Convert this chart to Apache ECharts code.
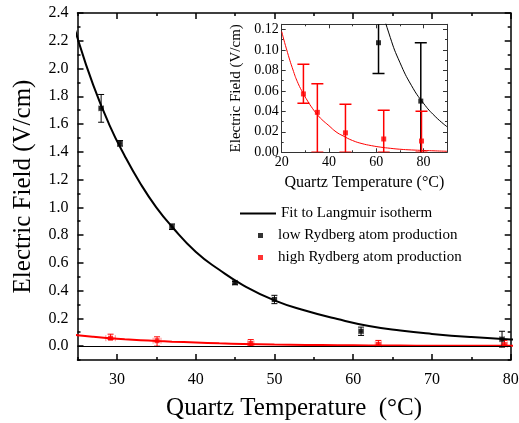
<!DOCTYPE html>
<html><head><meta charset="utf-8">
<script src="https://cdn.jsdelivr.net/npm/echarts@6/dist/echarts.min.js"></script>
<style>html,body{margin:0;padding:0;background:#fff}#c{width:519px;height:423px}</style>
</head><body><div id="c"></div>
<script>
// ---- data ----
var lowX    = [28.0, 30.4, 37.0, 45.0, 50.0, 61.0, 78.9];
var lowY    = [1.713, 1.461, 0.860, 0.456, 0.336, 0.107, 0.050];
var lowLo   = [1.613, 1.441, 0.840, 0.446, 0.306, 0.077, -0.007];
var lowHi   = [1.813, 1.481, 0.880, 0.466, 0.366, 0.137, 0.107];
var lowXErr = [0.3, 0.3, 0.3, 0.3, 0.3, 0.3, 0.3];

var highX    = [29.2, 35.1, 47.0, 63.2, 79.2];
var highY    = [0.057, 0.039, 0.019, 0.013, 0.011];
var highLo   = [0.048, 0.000, 0.000, 0.000, 0.000];
var highHi   = [0.086, 0.067, 0.047, 0.041, 0.040];
var highXErr = [0.6, 0.5, 0.4, 0.4, 0.4];

var fitX     = [20, 22, 25, 27, 29, 31, 33, 35, 37, 40, 43, 46, 50, 54, 58, 62, 66, 70, 75, 80, 85, 90];
var fitLowY  = [3.30, 2.80, 2.22, 1.88, 1.60, 1.37, 1.17, 1.00, 0.86, 0.68, 0.55, 0.44, 0.33, 0.255, 0.195, 0.145, 0.112, 0.088, 0.065, 0.048, 0.035, 0.025];
var fitHighY = [0.118, 0.101, 0.079, 0.067, 0.058, 0.050, 0.043, 0.037, 0.032, 0.026, 0.020, 0.016, 0.0115, 0.0085, 0.0065, 0.005, 0.0039, 0.003, 0.0023, 0.0018, 0.0014, 0.001];

var mainXMajor = [30, 40, 50, 60, 70, 80];
var mainXMinor = [25, 35, 45, 55, 65, 75];
var mainYMajor = [0.0, 0.2, 0.4, 0.6, 0.8, 1.0, 1.2, 1.4, 1.6, 1.8, 2.0, 2.2, 2.4];
var mainYMinor = [-0.1, 0.1, 0.3, 0.5, 0.7, 0.9, 1.1, 1.3, 1.5, 1.7, 1.9, 2.1, 2.3];
var insetXMajor = [20, 40, 60, 80];
var insetXMinor = [30, 50, 70, 90];
var insetYMajor = [0.00, 0.02, 0.04, 0.06, 0.08, 0.10, 0.12];
var insetYMinor = [0.01, 0.03, 0.05, 0.07, 0.09, 0.11];

var seriesNames = ['Fit to Langmuir isotherm', 'low Rydberg atom production', 'high Rydberg atom production'];
var xTitle = 'Quartz Temperature  (°C)';
var yTitle = 'Electric Field (V/cm)';
var insetXTitle = 'Quartz Temperature (°C)';
var insetYTitle = 'Electric Field (V/cm)';

// ---- build ----
var FONT = 'Liberation Serif';
function zip(a, b) { return a.map(function (v, i) { return [v, b[i]]; }); }
function zip3(a, b, c) { return a.map(function (v, i) { return [v, b[i], c[i]]; }); }

function axis(o) {
  var a = {
    type: 'value', gridIndex: o.grid, min: o.min, max: o.max, position: o.pos,
    axisLine: { show: o.line, onZero: false, lineStyle: { color: o.color, width: o.lw } },
    axisTick: { show: true, inside: true, length: o.tlen, customValues: o.ticks, lineStyle: { color: o.color, width: o.lw } },
    axisLabel: { show: !!o.labels, customValues: o.labels, fontFamily: FONT, fontSize: o.fs, color: '#000', margin: o.margin,
      formatter: o.fmt },
    splitLine: { show: false }
  };
  if (o.name) {
    a.name = o.name; a.nameLocation = 'middle'; a.nameGap = o.nameGap;
    a.nameTextStyle = { fontFamily: FONT, fontSize: o.nameFs, color: '#000' };
  }
  return a;
}

var xAxes = [
  axis({ grid: 0, min: 25, max: 80, pos: 'bottom', line: true, color: '#000', lw: 1.5, tlen: 6, ticks: mainXMajor, labels: mainXMajor, fs: 16, margin: 12, fmt: function (v) { return v; }, name: xTitle, nameGap: 36, nameFs: 25 }),
  axis({ grid: 0, min: 25, max: 80, pos: 'bottom', line: false, color: '#000', lw: 1.5, tlen: 3, ticks: mainXMinor }),
  axis({ grid: 0, min: 25, max: 80, pos: 'top', line: true, color: '#000', lw: 1.5, tlen: 6, ticks: mainXMajor }),
  axis({ grid: 0, min: 25, max: 80, pos: 'top', line: false, color: '#000', lw: 1.5, tlen: 3, ticks: mainXMinor }),
  axis({ grid: 1, min: 20, max: 90, pos: 'bottom', line: true, color: '#333', lw: 1, tlen: 4, ticks: insetXMajor, labels: insetXMajor, fs: 14, margin: 3, fmt: function (v) { return v; }, name: insetXTitle, nameGap: 22, nameFs: 16 }),
  axis({ grid: 1, min: 20, max: 90, pos: 'bottom', line: false, color: '#333', lw: 1, tlen: 2, ticks: insetXMinor }),
  axis({ grid: 1, min: 20, max: 90, pos: 'top', line: true, color: '#333', lw: 1, tlen: 4, ticks: insetXMajor }),
  axis({ grid: 1, min: 20, max: 90, pos: 'top', line: false, color: '#333', lw: 1, tlen: 2, ticks: insetXMinor })
];
var yAxes = [
  axis({ grid: 0, min: -0.1, max: 2.4, pos: 'left', line: true, color: '#000', lw: 1.5, tlen: 6, ticks: mainYMajor, labels: mainYMajor, fs: 16, margin: 9, fmt: function (v) { return v.toFixed(1); }, name: yTitle, nameGap: 42, nameFs: 25 }),
  axis({ grid: 0, min: -0.1, max: 2.4, pos: 'left', line: false, color: '#000', lw: 1.5, tlen: 3, ticks: mainYMinor }),
  axis({ grid: 0, min: -0.1, max: 2.4, pos: 'right', line: true, color: '#000', lw: 1.5, tlen: 6, ticks: mainYMajor }),
  axis({ grid: 0, min: -0.1, max: 2.4, pos: 'right', line: false, color: '#000', lw: 1.5, tlen: 3, ticks: mainYMinor }),
  axis({ grid: 1, min: 0, max: 0.125, pos: 'left', line: true, color: '#333', lw: 1, tlen: 4, ticks: insetYMajor, labels: insetYMajor, fs: 14, margin: 3, fmt: function (v) { return v.toFixed(2); }, name: insetYTitle, nameGap: 38, nameFs: 15 }),
  axis({ grid: 1, min: 0, max: 0.125, pos: 'left', line: false, color: '#333', lw: 1, tlen: 2, ticks: insetYMinor }),
  axis({ grid: 1, min: 0, max: 0.125, pos: 'right', line: true, color: '#333', lw: 1, tlen: 4, ticks: insetYMajor }),
  axis({ grid: 1, min: 0, max: 0.125, pos: 'right', line: false, color: '#333', lw: 1, tlen: 2, ticks: insetYMinor })
];

// vertical error bars: data [x, lo, hi]
function errBars(xi, yi, data, color, cap, lw) {
  return {
    type: 'custom', xAxisIndex: xi, yAxisIndex: yi, clip: true, z: 3, silent: true,
    encode: { x: 0, y: [1, 2] }, data: data,
    renderItem: function (params, api) {
      var x = api.value(0), lo = api.value(1), hi = api.value(2);
      var p1 = api.coord([x, lo]), p2 = api.coord([x, hi]);
      var st = { stroke: color, lineWidth: lw };
      return { type: 'group', children: [
        { type: 'line', shape: { x1: p1[0], y1: p1[1], x2: p2[0], y2: p2[1] }, style: st },
        { type: 'line', shape: { x1: p1[0] - cap, y1: p1[1], x2: p1[0] + cap, y2: p1[1] }, style: st },
        { type: 'line', shape: { x1: p2[0] - cap, y1: p2[1], x2: p2[0] + cap, y2: p2[1] }, style: st }
      ] };
    }
  };
}
// horizontal error bars: data [x, y, xerr]
function xErrBars(xi, yi, data, color, cap, lw) {
  return {
    type: 'custom', xAxisIndex: xi, yAxisIndex: yi, clip: true, z: 2, silent: true,
    encode: { x: 0, y: 1 }, data: data,
    renderItem: function (params, api) {
      var x = api.value(0), y = api.value(1), e = api.value(2);
      var p1 = api.coord([x - e, y]), p2 = api.coord([x + e, y]);
      var st = { stroke: color, lineWidth: lw };
      return { type: 'group', children: [
        { type: 'line', shape: { x1: p1[0], y1: p1[1], x2: p2[0], y2: p2[1] }, style: st },
        { type: 'line', shape: { x1: p1[0], y1: p1[1] - cap, x2: p1[0], y2: p1[1] + cap }, style: st },
        { type: 'line', shape: { x1: p2[0], y1: p2[1] - cap, x2: p2[0], y2: p2[1] + cap }, style: st }
      ] };
    }
  };
}

function fitLine(xi, yi, name, ys, color, w) {
  return { type: 'line', name: name, xAxisIndex: xi, yAxisIndex: yi, data: zip(fitX, ys), smooth: 0.5,
    showSymbol: false, lineStyle: { color: color, width: w }, itemStyle: { color: color }, z: 2, silent: true };
}

var legText = { fontFamily: FONT, fontSize: 15, color: '#000' };
var option = {
  animation: false,
  backgroundColor: '#fff',
  grid: [
    { left: 77.5, right: 8.3, top: 13, bottom: 63, outerBoundsMode: 'none', containLabel: false },
    { left: 281.7, top: 24.3, width: 165.3, height: 128, outerBoundsMode: 'none', containLabel: false }
  ],
  xAxis: xAxes,
  yAxis: yAxes,
  legend: [
    { data: [{ name: seriesNames[0], icon: 'rect' }], left: 240, top: 206, padding: 0, itemWidth: 36, itemHeight: 2,
      textStyle: legText, selectedMode: false },
    { data: [{ name: seriesNames[1], icon: 'rect' }], left: 258, top: 228, padding: 0, itemWidth: 5, itemHeight: 5,
      textStyle: Object.assign({ padding: [0, 0, 0, 10] }, legText), selectedMode: false },
    { data: [{ name: seriesNames[2], icon: 'rect' }], left: 258, top: 250, padding: 0, itemWidth: 5, itemHeight: 5,
      textStyle: Object.assign({ padding: [0, 0, 0, 10] }, legText), selectedMode: false }
  ],
  series: [
    // main chart
    { type: 'line', name: 'zero', xAxisIndex: 0, yAxisIndex: 0, data: [], silent: true,
      markLine: { silent: true, symbol: 'none', label: { show: false }, lineStyle: { color: '#000', width: 1, type: 'solid' }, data: [{ yAxis: 0 }] } },
    xErrBars(0, 0, zip3(lowX, lowY, lowXErr), '#999999', 3, 1),
    xErrBars(0, 0, zip3(highX, highY, highXErr), '#ff8c8c', 3, 1),
    fitLine(0, 0, seriesNames[0], fitLowY, '#000', 2),
    fitLine(0, 0, 'fitHigh', fitHighY, '#ff0000', 2),
    errBars(0, 0, zip3(lowX, lowLo, lowHi), '#000', 3, 1),
    errBars(0, 0, zip3(highX, highLo, highHi), '#ff0000', 3, 1),
    { type: 'scatter', name: seriesNames[1], xAxisIndex: 0, yAxisIndex: 0, data: zip(lowX, lowY), symbol: 'rect', symbolSize: 5,
      itemStyle: { color: '#000' }, z: 4 },
    { type: 'scatter', name: seriesNames[2], xAxisIndex: 0, yAxisIndex: 0, data: zip(highX, highY), symbol: 'rect', symbolSize: 5,
      itemStyle: { color: '#ff0000' }, z: 4 },
    // inset
    fitLine(4, 4, 'insetFitLow', fitLowY, '#000', 1),
    fitLine(4, 4, 'insetFitHigh', fitHighY, '#ff0000', 1),
    errBars(4, 4, zip3(lowX, lowLo, lowHi), '#000', 6, 1.5),
    errBars(4, 4, zip3(highX, highLo, highHi), '#ff0000', 6, 1.5),
    { type: 'scatter', name: 'insetLow', xAxisIndex: 4, yAxisIndex: 4, data: zip(lowX, lowY), symbol: 'rect', symbolSize: 5,
      itemStyle: { color: '#000' }, z: 4, clip: true },
    { type: 'scatter', name: 'insetHigh', xAxisIndex: 4, yAxisIndex: 4, data: zip(highX, highY), symbol: 'rect', symbolSize: 5,
      itemStyle: { color: '#ff0000' }, z: 4, clip: true }
  ]
};
var chart = echarts.init(document.getElementById('c'), null, { renderer: 'canvas' });
chart.setOption(option);
</script>
</body></html>
